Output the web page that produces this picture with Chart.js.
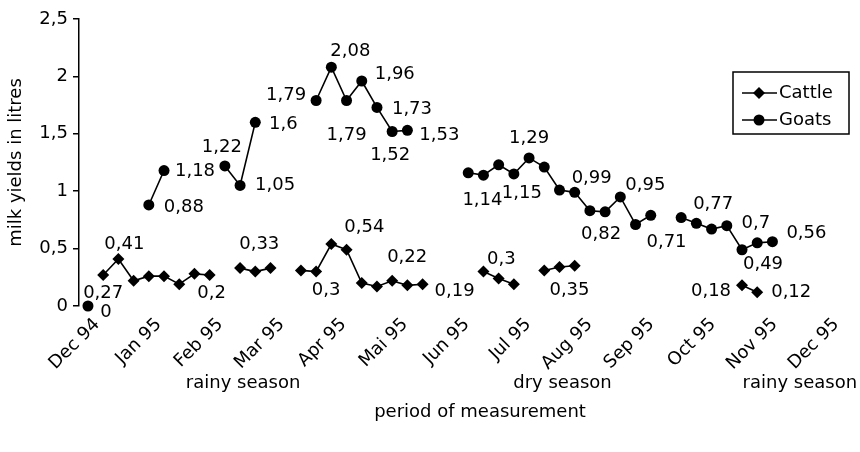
<!DOCTYPE html>
<html>
<head>
<meta charset="utf-8">
<script src="https://cdn.jsdelivr.net/npm/chart.js@4.4.1/dist/chart.umd.min.js"></script>
<style>
  html, body { margin: 0; padding: 0; background: #fff; }
</style>
</head>
<body>
<canvas id="chart" width="860" height="452"></canvas>
<script>
// month names on the x axis
const months = ['Dec 94', 'Jan 95', 'Feb 95', 'Mar 95', 'Apr 95', 'Mai 95', 'Jun 95',
  'Jul 95', 'Aug 95', 'Sep 95', 'Oct 95', 'Nov 95', 'Dec 95'];

const seasons = ['rainy season', 'dry season', 'rainy season'];
// measurement number the season text is centred on
const seasonAt = [10.2, 31.2, 46.8];

// milk yields per measurement (null = no measurement)
const cattle = [null, 0.27, 0.41, 0.22, 0.26, 0.26, 0.19, 0.28, 0.27, null,
  0.33, 0.30, 0.33, null, 0.31, 0.30, 0.54, 0.49, 0.20, 0.17,
  0.22, 0.18, 0.19, null, null, null, 0.30, 0.24, 0.19, null,
  0.31, 0.34, 0.35, null, null, null, null, null, null, null,
  null, null, null, 0.18, 0.12];

const goats = [0, null, null, null, 0.88, 1.18, null, null, null, 1.22,
  1.05, 1.60, null, null, null, 1.79, 2.08, 1.79, 1.96, 1.73,
  1.52, 1.53, null, null, null, 1.16, 1.14, 1.23, 1.15, 1.29,
  1.21, 1.01, 0.99, 0.83, 0.82, 0.95, 0.71, 0.79, null, 0.77,
  0.72, 0.67, 0.70, 0.49, 0.55, 0.56];

// value labels written next to some points
const cattleLabels = { 1: '0,27', 2: '0,41', 8: '0,2', 11: '0,33', 15: '0,3', 16: '0,54',
  20: '0,22', 22: '0,19', 26: '0,3', 31: '0,35', 43: '0,18', 44: '0,12' };
const goatLabels = { 0: '0', 4: '0,88', 5: '1,18', 9: '1,22', 10: '1,05', 11: '1,6',
  15: '1,79', 16: '2,08', 17: '1,79', 18: '1,96', 19: '1,73', 20: '1,52', 21: '1,53',
  26: '1,14', 28: '1,15', 29: '1,29', 32: '0,99', 34: '0,82', 35: '0,95', 36: '0,71',
  39: '0,77', 42: '0,7', 43: '0,49', 45: '0,56' };

// where each label sits relative to its point (px)
const cattleLabelOffset = { 1: [0, 18], 2: [6, -15], 8: [2, 18], 11: [4, -27], 15: [10, 19],
  16: [33, -17], 20: [15, -23], 22: [32, 7], 26: [18, -12], 31: [10, 23], 43: [-31, 6], 44: [34, 0] };
const goatLabelOffset = { 0: [18, 6], 4: [35, 2], 5: [31, 1], 9: [-3, -19], 10: [35, 0], 11: [28, 2],
  15: [-30, -5], 16: [19, -16], 17: [0, 35], 18: [33, -7], 19: [35, 2], 20: [-2, 24], 21: [32, 5],
  26: [-1, 25], 28: [8, 19], 29: [0, -20], 32: [17, -14], 34: [-4, 22], 35: [25, -12], 36: [31, 18],
  39: [32, -13], 42: [29, -2], 43: [21, 15], 45: [34, -8] };

const monthStart = 0.6;
const monthStep = 4.05;

const FONT = { family: '"DejaVu Sans", sans-serif', size: 18 };
const fontStr = '18px "DejaVu Sans", sans-serif';

const valueLabels = {
  id: 'valueLabels',
  afterDatasetsDraw(chart) {
    const ctx = chart.ctx;
    ctx.save();
    ctx.font = fontStr;
    ctx.fillStyle = '#000';
    ctx.textAlign = 'center';
    ctx.textBaseline = 'middle';
    const sets = [[cattleLabels, cattleLabelOffset], [goatLabels, goatLabelOffset]];
    sets.forEach(([texts, offs], di) => {
      const meta = chart.getDatasetMeta(di);
      Object.keys(texts).forEach(k => {
        const el = meta.data[k];
        const [dx, dy] = offs[k];
        ctx.fillText(texts[k], el.x + dx, el.y + dy);
      });
    });
    ctx.restore();
  }
};

const extras = {
  id: 'extras',
  afterDraw(chart) {
    const ctx = chart.ctx;
    const area = chart.chartArea;
    const xs = chart.scales.x;
    ctx.save();
    ctx.font = fontStr;
    ctx.fillStyle = '#000';
    ctx.strokeStyle = '#000';
    ctx.textBaseline = 'middle';
    ctx.textAlign = 'center';

    // seasons and axis titles
    seasons.forEach((s, i) => ctx.fillText(s, xs.getPixelForValue(seasonAt[i]), 383));
    ctx.fillText('period of measurement', 480, 412);
    ctx.save();
    ctx.translate(16, (area.top + area.bottom) / 2);
    ctx.rotate(-Math.PI / 2);
    ctx.fillText('milk yields in litres', 0, 0);
    ctx.restore();

    // legend box
    const lx = 733, ly = 72, lw = 116, lh = 62;
    ctx.lineWidth = 1.5;
    ctx.strokeRect(lx, ly, lw, lh);
    chart.data.datasets.forEach((ds, i) => {
      const y = ly + 21 + i * 27;
      ctx.lineWidth = ds.borderWidth;
      ctx.beginPath();
      ctx.moveTo(lx + 9, y);
      ctx.lineTo(lx + 44, y);
      ctx.stroke();
      Chart.helpers.drawPoint(ctx, {
        pointStyle: ds.pointStyle, radius: ds.pointRadius, rotation: 0, borderWidth: 0
      }, lx + 26, y);
      ctx.textAlign = 'left';
      ctx.fillText(ds.label, lx + 46, y);
    });
    ctx.restore();
  }
};

new Chart(document.getElementById('chart'), {
  type: 'line',
  data: {
    labels: goats.map((_, i) => i),
    datasets: [
      {
        label: 'Cattle',
        data: cattle,
        borderColor: '#000',
        backgroundColor: '#000',
        borderWidth: 1.6,
        pointStyle: 'rectRot',
        pointRadius: 6,
        pointBorderWidth: 0,
        pointBackgroundColor: '#000',
        spanGaps: false,
        clip: false,
      },
      {
        label: 'Goats',
        data: goats,
        borderColor: '#000',
        backgroundColor: '#000',
        borderWidth: 1.6,
        pointStyle: 'circle',
        pointRadius: 5.5,
        pointBorderWidth: 0,
        pointBackgroundColor: '#000',
        spanGaps: false,
        clip: false,
      },
    ],
  },
  options: {
    responsive: false,
    animation: false,
    devicePixelRatio: 1,
    layout: { padding: { top: 19, right: 10, bottom: 0, left: 0 } },
    plugins: {
      legend: { display: false },
      tooltip: { enabled: false },
    },
    scales: {
      x: {
        type: 'linear',
        min: -0.59,
        max: 50.1,
        grid: { display: false, drawTicks: false },
        border: { display: false },
        afterBuildTicks: (s) => {
          s.ticks = months.map((m, k) => ({ value: monthStart + k * monthStep }));
        },
        ticks: {
          autoSkip: false,
          minRotation: 45,
          maxRotation: 45,
          padding: 8,
          color: '#000',
          font: FONT,
          callback: (v, i) => months[i],
        },
        afterFit: (s) => { s.height = 146; },
      },
      y: {
        min: 0,
        max: 2.5,
        grid: { drawOnChartArea: false, drawTicks: true, tickLength: 6, color: '#000', lineWidth: 1.5 },
        border: { display: true, color: '#000', width: 1.5 },
        ticks: {
          stepSize: 0.5,
          padding: 5,
          color: '#000',
          font: FONT,
          callback: (v) => String(v).replace('.', ','),
        },
        afterFit: (s) => { s.width = 79; },
      },
    },
  },
  plugins: [valueLabels, extras],
});
</script>
</body>
</html>
